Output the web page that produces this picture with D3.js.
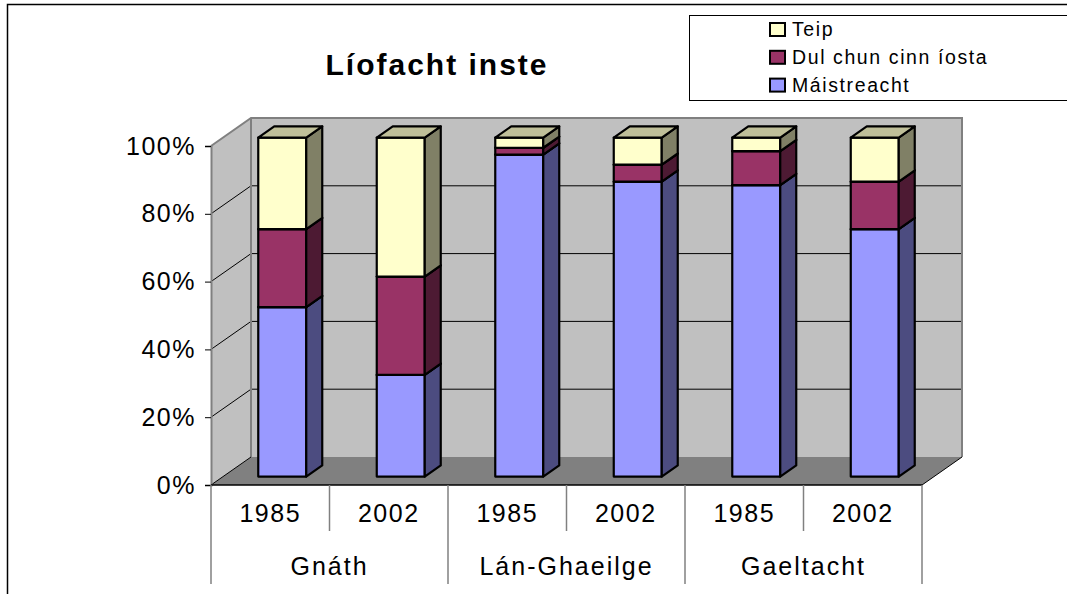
<!DOCTYPE html>
<html>
<head>
<meta charset="utf-8">
<script src="https://cdn.jsdelivr.net/npm/d3@7"></script>
<style>
  body { margin: 0; background: #fff; }
  text { font-family: "Liberation Sans", Arial, sans-serif; fill: #000; }
</style>
</head>
<body>
<svg id="chart" width="1067" height="594"></svg>
<script>
// data (percent of each bar)
var groups = ['Gnáth', 'Lán-Ghaeilge', 'Gaeltacht'];
var years = ['1985', '2002'];
var seriesNames = ['Máistreacht', 'Dul chun cinn íosta', 'Teip'];
var maistreacht = [50, 30, 95, 87, 86, 73];
var dulChunCinn = [23, 29, 2, 5, 10, 14];
var teip = [27, 41, 3, 8, 4, 13];
var yTicks = [0, 20, 40, 60, 80, 100];

var faceColors = ['#9999ff', '#993366', '#ffffcc'];
var sideColors = ['#4c4c80', '#4d1a33', '#808066'];
var topColors = ['#7373bf', '#73264d', '#bfbf99'];

var svg = d3.select('#chart');

// build rows: one per bar
var rows = [];
groups.forEach(function(g, gi) {
  years.forEach(function(yr, yi) {
    var i = gi * years.length + yi;
    rows.push({ key: g + '|' + yr, group: g, year: yr,
      'Máistreacht': maistreacht[i], 'Dul chun cinn íosta': dulChunCinn[i], 'Teip': teip[i] });
  });
});
var stacked = d3.stack().keys(seriesNames)(rows);

var x = d3.scaleBand().domain(rows.map(function(d) { return d.key; })).range([211, 922]).padding(0);
var xGroup = d3.scaleBand().domain(groups).range([211, 922]).padding(0);
var y = d3.scaleLinear().domain([0, 100]).range([485, 146]);

// full depth of the floor and where the bars sit in it
var DX = 40, DY = -28;
var barFront = 0.3, barBack = 0.7;
var barWidth = x.bandwidth() * 0.405;

function pts(a) { return a.map(function(p) { return p.join(','); }).join(' '); }

// outer frame (cropped at right and bottom)
svg.append('path')
  .attr('d', 'M7.5,594 L7.5,4.5 L1070,4.5')
  .attr('fill', 'none').attr('stroke', '#000').attr('stroke-width', 1.5);

// left wall
var x0 = x.range()[0], x1 = x.range()[1];
svg.append('polygon')
  .attr('points', pts([[x0, y(100)], [x0 + DX, y(100) + DY], [x0 + DX, y(0) + DY], [x0, y(0)]]))
  .attr('fill', '#c0c0c0');
// back wall
svg.append('polygon')
  .attr('points', pts([[x0 + DX, y(100) + DY], [x1 + DX, y(100) + DY], [x1 + DX, y(0) + DY], [x0 + DX, y(0) + DY]]))
  .attr('fill', '#c0c0c0');
// floor
svg.append('polygon')
  .attr('points', pts([[x0, y(0)], [x0 + DX, y(0) + DY], [x1 + DX, y(0) + DY], [x1, y(0)]]))
  .attr('fill', '#808080');

// gridlines
var grid = yTicks.filter(function(t) { return t > 0 && t < 100; });
svg.append('g').selectAll('path').data(grid).enter().append('path')
  .attr('d', function(t) {
    return 'M' + x0 + ',' + y(t) + ' L' + (x0 + DX) + ',' + (y(t) + DY) + ' L' + (x1 + DX) + ',' + (y(t) + DY);
  })
  .attr('fill', 'none').attr('stroke', '#000').attr('stroke-width', 1);

// wall edges
svg.append('path')
  .attr('d', 'M' + x0 + ',' + y(100) + ' L' + (x0 + DX) + ',' + (y(100) + DY) + ' L' + (x1 + DX) + ',' + (y(100) + DY) +
    ' L' + (x1 + DX) + ',' + (y(0) + DY) +
    ' M' + (x0 + DX) + ',' + (y(100) + DY) + ' L' + (x0 + DX) + ',' + (y(0) + DY))
  .attr('fill', 'none').attr('stroke', '#808080').attr('stroke-width', 2);
svg.append('path')
  .attr('d', 'M' + x1 + ',' + y(0) + ' L' + (x1 + DX) + ',' + (y(0) + DY) + ' M' + x0 + ',' + y(0) + ' L' + (x0 + DX) + ',' + (y(0) + DY))
  .attr('fill', 'none').attr('stroke', '#000').attr('stroke-width', 1);

// y axis
var yAxis = d3.axisLeft(y).tickValues(yTicks).tickFormat(function(d) { return d + '%'; })
  .tickSize(6).tickPadding(9);
var ya = svg.append('g').attr('transform', 'translate(' + x0 + ',0)').call(yAxis);
ya.select('.domain').attr('stroke', '#808080').attr('stroke-width', 2);
ya.selectAll('.tick line').attr('stroke', '#000');
ya.selectAll('.tick text')
  .style('font-family', '"Liberation Sans", Arial, sans-serif')
  .style('font-size', '25px').style('letter-spacing', '1.5px').attr('fill', '#000');

// x axis line
svg.append('line')
  .attr('x1', x0).attr('x2', x1).attr('y1', y(0)).attr('y2', y(0))
  .attr('stroke', '#000').attr('stroke-width', 1.5);

// bars
var fx = barFront * DX, fy = barFront * DY;
var bx = barBack * DX, by = barBack * DY;
stacked.forEach(function(layer, si) {
  var g = svg.append('g').attr('class', 'series-' + si);
  layer.forEach(function(seg) {
    var key = seg.data.key;
    var left = x(key) + x.bandwidth() / 2 - barWidth / 2 + fx;
    var right = left + barWidth;
    var yb = y(seg[0]) + fy, yt = y(seg[1]) + fy;
    var ddx = bx - fx, ddy = by - fy;
    // front
    g.append('polygon')
      .attr('points', pts([[left, yt], [right, yt], [right, yb], [left, yb]]))
      .attr('fill', faceColors[si]);
    // side
    g.append('polygon')
      .attr('points', pts([[right, yt], [right + ddx, yt + ddy], [right + ddx, yb + ddy], [right, yb]]))
      .attr('fill', sideColors[si]);
    // top
    g.append('polygon')
      .attr('points', pts([[left, yt], [left + ddx, yt + ddy], [right + ddx, yt + ddy], [right, yt]]))
      .attr('fill', topColors[si]);
    g.selectAll('polygon').attr('stroke', '#000').attr('stroke-width', 2.2).attr('stroke-linejoin', 'round');
  });
});

// category labels
var base = y(0);
svg.append('g').selectAll('line').data(rows.slice(1)).enter().append('line')
  .attr('x1', function(d) { return x(d.key); }).attr('x2', function(d) { return x(d.key); })
  .attr('y1', base).attr('y2', function(d, i) { return (i % 2 === 0) ? 531 : 584; })
  .attr('stroke', '#808080').attr('stroke-width', 1.5);
svg.append('g').selectAll('line').data([x0, x1]).enter().append('line')
  .attr('x1', function(d) { return d; }).attr('x2', function(d) { return d; })
  .attr('y1', base).attr('y2', 584)
  .attr('stroke', '#808080').attr('stroke-width', 1.5);

svg.append('g').selectAll('text').data(rows).enter().append('text')
  .attr('x', function(d) { return x(d.key) + x.bandwidth() / 2; })
  .attr('y', 522)
  .attr('text-anchor', 'middle')
  .style('font-size', '25px').style('letter-spacing', '1.5px')
  .text(function(d) { return d.year; });

svg.append('g').selectAll('text').data(groups).enter().append('text')
  .attr('x', function(d) { return xGroup(d) + xGroup.bandwidth() / 2; })
  .attr('y', 575)
  .attr('text-anchor', 'middle')
  .style('font-size', '25px').style('letter-spacing', '2px')
  .text(function(d) { return d; });

// title
svg.append('text')
  .attr('x', 437).attr('y', 75)
  .attr('text-anchor', 'middle')
  .style('font-size', '30px').style('font-weight', 'bold').style('letter-spacing', '2px')
  .text('Líofacht inste');

// legend (Teip on top)
var legend = svg.append('g');
legend.append('rect')
  .attr('x', 689.5).attr('y', 15.5).attr('width', 400).attr('height', 85)
  .attr('fill', '#fff').attr('stroke', '#000').attr('stroke-width', 1);
var legendOrder = seriesNames.slice().reverse();
var li = legend.selectAll('g.item').data(legendOrder).enter().append('g')
  .attr('class', 'item')
  .attr('transform', function(d, i) { return 'translate(770,' + (36 + i * 27.8) + ')'; });
li.append('rect')
  .attr('x', 0).attr('y', -13).attr('width', 15).attr('height', 13)
  .attr('fill', function(d) { return faceColors[seriesNames.indexOf(d)]; })
  .attr('stroke', '#000').attr('stroke-width', 2);
li.append('text')
  .attr('x', 22).attr('y', 0)
  .style('font-size', '19.5px').style('letter-spacing', '1.6px')
  .text(function(d) { return d; });
</script>
</body>
</html>
